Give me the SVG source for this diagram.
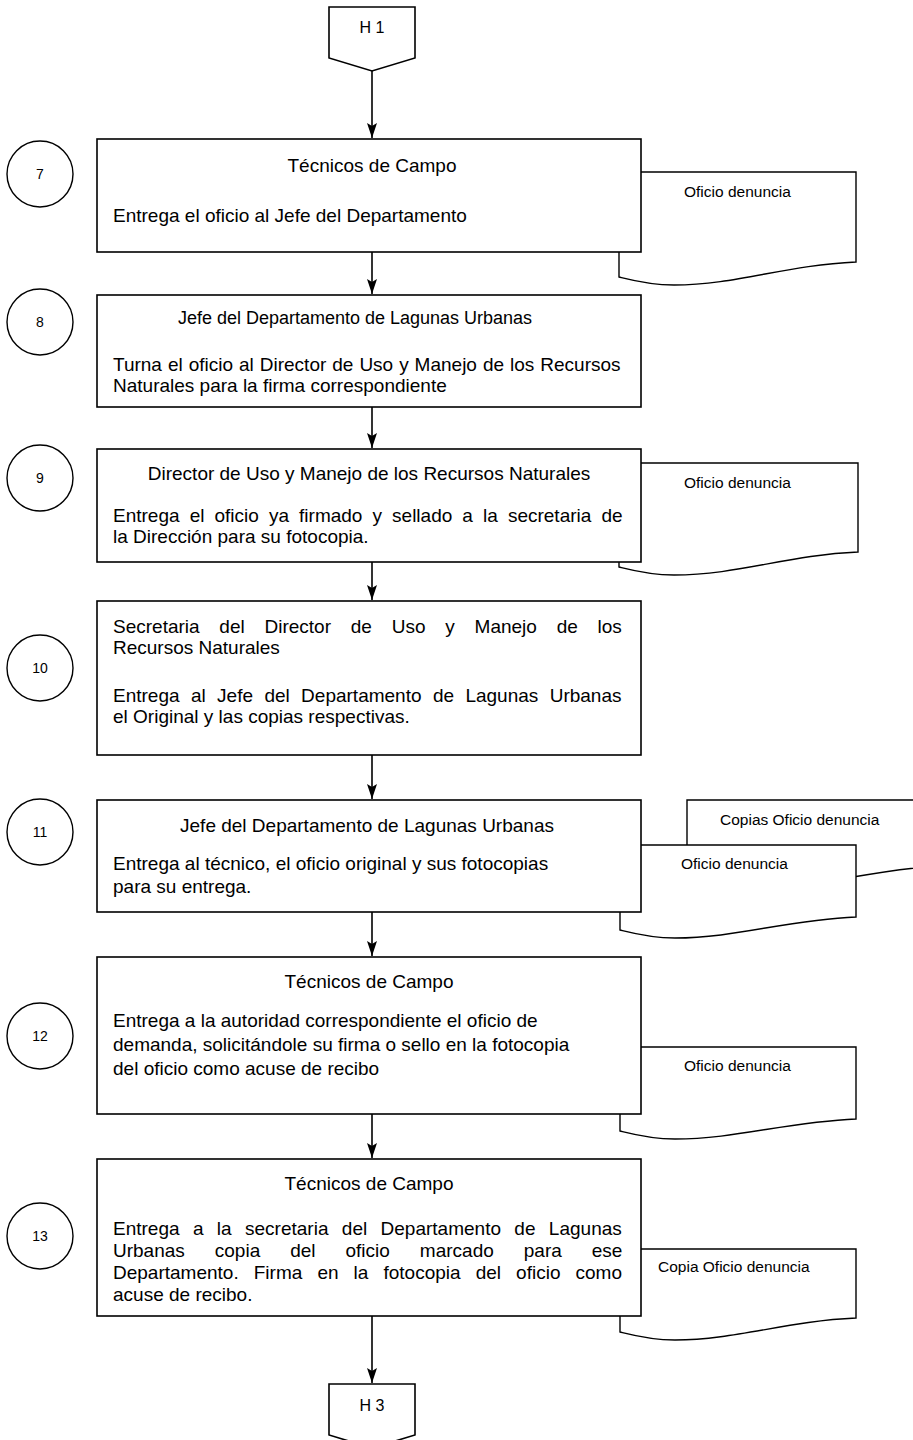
<svg xmlns="http://www.w3.org/2000/svg" width="913" height="1440" viewBox="0 0 913 1440">
<style>
.box{fill:#fff;stroke:#000;stroke-width:1.6}
.doc{fill:#fff;stroke:#000;stroke-width:1.4}
.cir{fill:#fff;stroke:#000;stroke-width:1.4}
.t{font-family:"Liberation Sans",Arial,sans-serif;font-size:19px;fill:#000}
.tc{font-family:"Liberation Sans",Arial,sans-serif;font-size:19px;fill:#000;text-anchor:middle}
.d{font-family:"Liberation Sans",Arial,sans-serif;font-size:15.5px;fill:#000}
.n{font-family:"Liberation Sans",Arial,sans-serif;font-size:14px;fill:#000;text-anchor:middle}
.h{font-family:"Liberation Sans",Arial,sans-serif;font-size:16px;fill:#000;text-anchor:middle}
.c{stroke:#000;stroke-width:1.6;fill:none}
</style>
<defs>
<marker id="ah" markerUnits="userSpaceOnUse" markerWidth="16" markerHeight="10" refX="15" refY="5" orient="auto">
<path d="M0,0 L15,5 L0,10 L3,5 Z" fill="#000"/>
</marker>
</defs>

<g id="connectors">
<line class="c" x1="372" y1="71" x2="372" y2="138" marker-end="url(#ah)"/>
<line class="c" x1="372" y1="252" x2="372" y2="294" marker-end="url(#ah)"/>
<line class="c" x1="372" y1="407" x2="372" y2="448" marker-end="url(#ah)"/>
<line class="c" x1="372" y1="562" x2="372" y2="600" marker-end="url(#ah)"/>
<line class="c" x1="372" y1="755" x2="372" y2="799" marker-end="url(#ah)"/>
<line class="c" x1="372" y1="912" x2="372" y2="956" marker-end="url(#ah)"/>
<line class="c" x1="372" y1="1114" x2="372" y2="1158" marker-end="url(#ah)"/>
<line class="c" x1="372" y1="1316" x2="372" y2="1383" marker-end="url(#ah)"/>
</g>

<g id="H1">
<polygon class="box" points="329,7 415,7 415,58 372,71 329,58"/>
<text class="h" x="372" y="33">H 1</text>
</g>

<g id="doc7">
<path class="doc" d="M619,277 V172 H856 V262 C786,265 736,285 674,285 C649,285 631,280 619,277 Z"/>
<text class="d" x="684" y="197">Oficio denuncia</text>
</g>
<g id="step7">
<circle class="cir" cx="40" cy="174" r="33"/>
<text class="n" x="40" y="179">7</text>
<rect class="box" x="97" y="139" width="544" height="113"/>
<text class="tc" x="372" y="172">Técnicos de Campo</text>
<text class="t" x="113" y="222">Entrega el oficio al Jefe del Departamento</text>
</g>

<g id="step8">
<circle class="cir" cx="40" cy="322" r="33"/>
<text class="n" x="40" y="327">8</text>
<rect class="box" x="97" y="295" width="544" height="112"/>
<text class="tc" x="355" y="324" style="font-size:18px">Jefe del Departamento de Lagunas Urbanas</text>
<text class="t" x="113" y="371" style="word-spacing:0.7px">Turna el oficio al Director de Uso y Manejo de los Recursos</text>
<text class="t" x="113" y="392">Naturales para la firma correspondiente</text>
</g>

<g id="doc9">
<path class="doc" d="M619,567 V463 H858 V552 C788,555 738,575 674,575 C649,575 631,570 619,567 Z"/>
<text class="d" x="684" y="488">Oficio denuncia</text>
</g>
<g id="step9">
<circle class="cir" cx="40" cy="478" r="33"/>
<text class="n" x="40" y="483">9</text>
<rect class="box" x="97" y="449" width="544" height="113"/>
<text class="tc" x="369" y="480">Director de Uso y Manejo de los Recursos Naturales</text>
<text class="t" x="113" y="522" style="word-spacing:4.8px">Entrega el oficio ya firmado y sellado a la secretaria de</text>
<text class="t" x="113" y="543">la Dirección para su fotocopia.</text>
</g>

<g id="step10">
<circle class="cir" cx="40" cy="668" r="33"/>
<text class="n" x="40" y="673">10</text>
<rect class="box" x="97" y="601" width="544" height="154"/>
<text class="t" x="113" y="633" style="word-spacing:14.5px">Secretaria del Director de Uso y Manejo de los</text>
<text class="t" x="113" y="654">Recursos Naturales</text>
<text class="t" x="113" y="702" style="word-spacing:6.1px">Entrega al Jefe del Departamento de Lagunas Urbanas</text>
<text class="t" x="113" y="723">el Original y las copias respectivas.</text>
</g>

<g id="doc11b">
<path class="doc" d="M687,884 V800 H940 V866 C870,869 820,889 742,889 C717,889 699,887 687,884 Z"/>
<text class="d" x="720" y="825">Copias Oficio denuncia</text>
</g>
<g id="doc11">
<path class="doc" d="M620,930 V845 H856 V917 C786,920 736,938 675,938 C650,938 632,933 620,930 Z"/>
<text class="d" x="681" y="869">Oficio denuncia</text>
</g>
<g id="step11">
<circle class="cir" cx="40" cy="832" r="33"/>
<text class="n" x="40" y="837">11</text>
<rect class="box" x="97" y="800" width="544" height="112"/>
<text class="tc" x="367" y="832">Jefe del Departamento de Lagunas Urbanas</text>
<text class="t" x="113" y="870">Entrega al técnico, el oficio original y sus fotocopias</text>
<text class="t" x="113" y="893">para su entrega.</text>
</g>

<g id="doc12">
<path class="doc" d="M620,1131 V1047 H856 V1119 C786,1122 736,1139 675,1139 C650,1139 632,1134 620,1131 Z"/>
<text class="d" x="684" y="1071">Oficio denuncia</text>
</g>
<g id="step12">
<circle class="cir" cx="40" cy="1036" r="33"/>
<text class="n" x="40" y="1041">12</text>
<rect class="box" x="97" y="957" width="544" height="157"/>
<text class="tc" x="369" y="988">Técnicos de Campo</text>
<text class="t" x="113" y="1027">Entrega a la autoridad correspondiente el oficio de</text>
<text class="t" x="113" y="1051">demanda, solicitándole su firma o sello en la fotocopia</text>
<text class="t" x="113" y="1075">del oficio como acuse de recibo</text>
</g>

<g id="doc13">
<path class="doc" d="M620,1332 V1249 H856 V1318 C786,1321 736,1340 675,1340 C650,1340 632,1335 620,1332 Z"/>
<text class="d" x="658" y="1272">Copia Oficio denuncia</text>
</g>
<g id="step13">
<circle class="cir" cx="40" cy="1236" r="33"/>
<text class="n" x="40" y="1241">13</text>
<rect class="box" x="97" y="1159" width="544" height="157"/>
<text class="tc" x="369" y="1190">Técnicos de Campo</text>
<text class="t" x="113" y="1235" style="word-spacing:8.1px">Entrega a la secretaria del Departamento de Lagunas</text>
<text class="t" x="113" y="1257" style="word-spacing:24.7px">Urbanas copia del oficio marcado para ese</text>
<text class="t" x="113" y="1279" style="word-spacing:9.8px">Departamento. Firma en la fotocopia del oficio como</text>
<text class="t" x="113" y="1301">acuse de recibo.</text>
</g>

<g id="H3">
<polygon class="box" points="329,1384 415,1384 415,1435 372,1448 329,1435"/>
<text class="h" x="372" y="1411">H 3</text>
</g>
</svg>
